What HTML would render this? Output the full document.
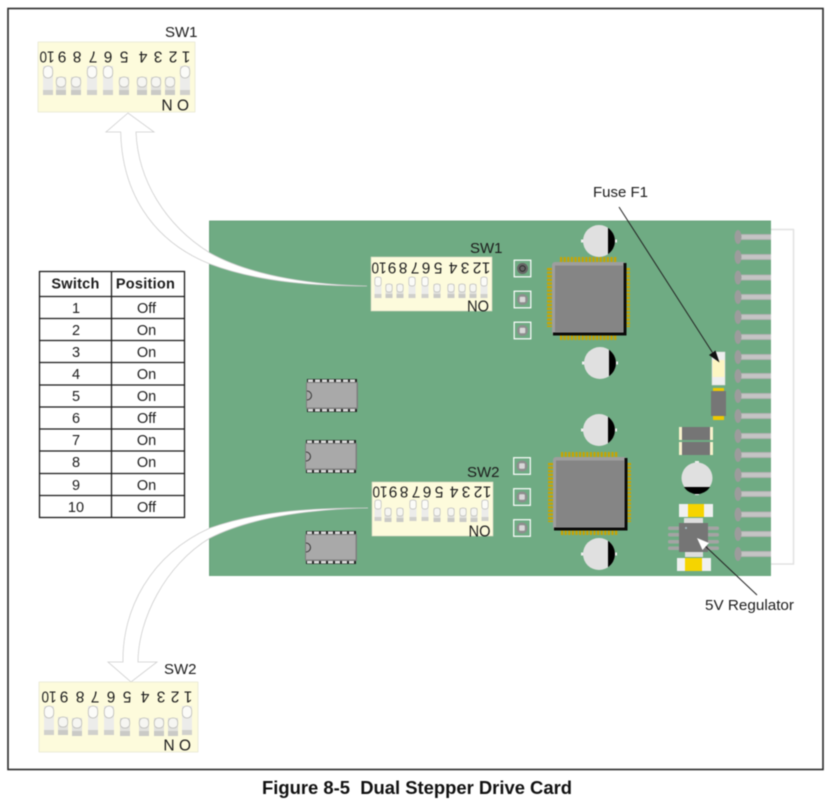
<!DOCTYPE html>
<html><head><meta charset="utf-8"><style>
html,body{margin:0;padding:0;background:#fff;width:831px;height:802px;overflow:hidden}
svg{display:block;filter:blur(.4px)}
text{font-family:"Liberation Sans",sans-serif;fill:#1c1c1c}
.d{font-size:15.5px;text-anchor:middle}
.l{font-size:15px}
.t{font-size:14.5px;text-anchor:middle}
.th{font-size:14.5px;font-weight:bold;text-anchor:middle;letter-spacing:.25px}
</style></head><body>
<svg width="831" height="802" viewBox="0 0 831 802" xmlns="http://www.w3.org/2000/svg">
<defs>
<g id="T"><rect x="-5" y="0" width="10" height="29" fill="#ececea"/><rect x="-5" y="24" width="10" height="5" fill="#d0d0cc"/><rect x="-4.700" y="0" width="9.400" height="12" rx="4.500" fill="#fbfbf8" stroke="#bcbcb8" stroke-width=".8"/></g>
<g id="S"><rect x="-5" y="0" width="10" height="18" fill="#e2e2de"/><rect x="-5" y="13" width="10" height="5" fill="#cacac6"/><rect x="-4.700" y="0" width="9.400" height="10" rx="4" fill="#f6f6f2" stroke="#bcbcb8" stroke-width=".8"/></g>
<g id="t"><rect x="-3.500" y="0" width="7" height="21" fill="#ececea"/><rect x="-3.500" y="17" width="7" height="4" fill="#d0d0cc"/><rect x="-3.200" y="0" width="6.400" height="9" rx="2.500" fill="#fbfbf8" stroke="#bcbcb8" stroke-width=".7"/></g>
<g id="s"><rect x="-3.500" y="0" width="7" height="14" fill="#e2e2de"/><rect x="-3.500" y="10" width="7" height="4" fill="#cacac6"/><rect x="-3.200" y="0" width="6.400" height="8" rx="2.500" fill="#f6f6f2" stroke="#bcbcb8" stroke-width=".7"/></g>
<g id="pin"><rect x="0" y="-3" width="33" height="6" fill="#b0b0b0"/><rect x="0" y="-2" width="33" height="4" fill="#c4c4c4"/><ellipse cx="0" cy="0" rx="3.500" ry="7" fill="#9c9c9c"/></g>
<g id="pad"><rect x="-8.300" y="-8.300" width="16.600" height="16.600" fill="none" stroke="#fff" stroke-width="1.200"/><circle r="5.500" fill="#8e8e8e"/><rect x="-2.800" y="-2.800" width="5.600" height="5.600" rx="1" fill="#d8d8d8"/></g>
<g id="qfp">
<path d="M8,-2.500H65M-2.500,6V65M75.500,6V65M8,75.500H65" stroke="#c9a400" stroke-width="5" stroke-dasharray="2.200 1.400" fill="none"/>
<rect x="0" y="0" width="74" height="73" rx="3" fill="#9e9e9e"/>
<path d="M71.500,1H74.500V73.500H1V70.500H71.500Z" fill="#0b0b0b"/>
<rect x="3" y="3.500" width="68" height="66.500" fill="#858585"/>
</g>
<g id="capR"><rect x="-18" y="-1.500" width="36" height="3" fill="#eee"/><circle r="16" fill="#e0e0e0"/><path d="M9,-13.200 A16,16 0 0 1 9,13.200Z" fill="#000"/></g>
<g id="dip">
<rect x="1" y="-2" width="50" height="4" fill="#222"/>
<rect x="1" y="27" width="50" height="4" fill="#222"/>
<path d="M2,0H51M2,29H51" stroke="#dcdcdc" stroke-width="3" stroke-dasharray="5 2" fill="none"/>
<rect x="0" y="1" width="52" height="27" rx="1" fill="#7e7e7e"/>
<rect x="1" y="2" width="49.500" height="24.500" fill="#a9a9a9"/>
<path d="M1,10 A4.500,4.500 0 0 1 1,19" fill="none" stroke="#333" stroke-width="1"/>
</g>
</defs>

<rect x="0" y="0" width="831" height="802" fill="#fff"/>
<rect x="8" y="8.500" width="815" height="761" fill="#fff" stroke="#2a2a2a" stroke-width="1.600"/>

<!-- connector -->
<rect x="765" y="229.500" width="28.500" height="334.500" fill="#fff" stroke="#e2e2e2" stroke-width="1.500"/>
<!-- board -->
<rect x="209.500" y="221" width="561.500" height="355" fill="#6fab83"/>
<path d="M209.500,576V221H771" fill="none" stroke="#5c9870" stroke-width=".8"/>

<!-- pins -->
<use href="#pin" x="738" y="237"/><use href="#pin" x="738" y="257"/><use href="#pin" x="738" y="277.500"/><use href="#pin" x="738" y="297"/><use href="#pin" x="738" y="317"/><use href="#pin" x="738" y="337"/><use href="#pin" x="738" y="357"/><use href="#pin" x="738" y="376"/><use href="#pin" x="738" y="396"/><use href="#pin" x="738" y="416"/><use href="#pin" x="738" y="436"/><use href="#pin" x="738" y="455"/><use href="#pin" x="738" y="475"/><use href="#pin" x="738" y="494"/><use href="#pin" x="738" y="514.500"/><use href="#pin" x="738" y="534"/><use href="#pin" x="738" y="554"/>

<!-- curved arrows -->
<path d="M128,113 L106,132 H120.700 C122,190 150,240 210,264 C260,283 320,286 367,286 C320,285 255,278 210,253 C165,225 138,180 136,132 H154 Z" fill="#fff" stroke="#cfcfcf" stroke-width=".8"/>
<path d="M131,682 L108,662 H123 C122,610 150,555 210,528 C260,510 320,508 368,508 C320,509 255,515 210,538 C165,565 138,620 138,662 H157 Z" fill="#fff" stroke="#cfcfcf" stroke-width=".8"/>

<!-- board DIP switch 1 -->
<rect x="371" y="257" width="121" height="54" fill="#fdfbdc" stroke="#d9d9c4" stroke-width=".6"/>
<use href="#t" x="378" y="277"/><use href="#s" x="389" y="284"/><use href="#s" x="400" y="284"/><use href="#t" x="412" y="277"/><use href="#t" x="425" y="277"/><use href="#s" x="437" y="284"/><use href="#s" x="451" y="284"/><use href="#s" x="462" y="284"/><use href="#s" x="473" y="284"/><use href="#t" x="484" y="277"/>
<text class="d" transform="translate(486 268) rotate(180)" y="5.500">1</text>
<text class="d" transform="translate(477 268) rotate(180)" y="5.500">2</text>
<text class="d" transform="translate(465 268) rotate(180)" y="5.500">3</text>
<text class="d" transform="translate(453 268) rotate(180)" y="5.500">4</text>
<text class="d" transform="translate(438 268) rotate(180)" y="5.500">5</text>
<text class="d" transform="translate(426 268) rotate(180)" y="5.500">6</text>
<text class="d" transform="translate(415 268) rotate(180)" y="5.500">7</text>
<text class="d" transform="translate(403 268) rotate(180)" y="5.500">8</text>
<text class="d" transform="translate(392 268) rotate(180)" y="5.500">9</text>
<text class="d" transform="translate(379 268) rotate(180)" y="5.500" textLength="15" lengthAdjust="spacingAndGlyphs">10</text>
<text class="d" transform="translate(478 306) rotate(180)" y="5.500" textLength="22" lengthAdjust="spacingAndGlyphs">ON</text>
<text class="l" x="470" y="253">SW1</text>

<!-- board DIP switch 2 -->
<rect x="372" y="482" width="121" height="54" fill="#fdfbdc" stroke="#d9d9c4" stroke-width=".6"/>
<use href="#t" x="378" y="500"/><use href="#s" x="388" y="508"/><use href="#s" x="400" y="508"/><use href="#t" x="413" y="500"/><use href="#t" x="425" y="500"/><use href="#s" x="437" y="508"/><use href="#s" x="451" y="508"/><use href="#s" x="463" y="508"/><use href="#s" x="474" y="508"/><use href="#t" x="485" y="500"/>
<text class="d" transform="translate(487 492) rotate(180)" y="5.500">1</text>
<text class="d" transform="translate(478 492) rotate(180)" y="5.500">2</text>
<text class="d" transform="translate(466 492) rotate(180)" y="5.500">3</text>
<text class="d" transform="translate(454 492) rotate(180)" y="5.500">4</text>
<text class="d" transform="translate(439 492) rotate(180)" y="5.500">5</text>
<text class="d" transform="translate(427 492) rotate(180)" y="5.500">6</text>
<text class="d" transform="translate(416 492) rotate(180)" y="5.500">7</text>
<text class="d" transform="translate(404 492) rotate(180)" y="5.500">8</text>
<text class="d" transform="translate(393 492) rotate(180)" y="5.500">9</text>
<text class="d" transform="translate(380 492) rotate(180)" y="5.500" textLength="15" lengthAdjust="spacingAndGlyphs">10</text>
<text class="d" transform="translate(479.500 531) rotate(180)" y="5.500" textLength="22" lengthAdjust="spacingAndGlyphs">ON</text>
<text class="l" x="467" y="477">SW2</text>

<!-- pads -->
<use href="#pad" x="522.500" y="268.500"/><use href="#pad" x="522.500" y="299.500"/><use href="#pad" x="522.500" y="330.500"/>
<circle cx="522.500" cy="268.500" r="5.500" fill="#666"/><circle cx="522.500" cy="268.500" r="2.800" fill="none" stroke="#222" stroke-width=".8"/>
<use href="#pad" x="522" y="466"/><use href="#pad" x="522" y="497"/><use href="#pad" x="522" y="528"/>

<!-- QFP chips -->
<use href="#qfp" x="552" y="262"/>
<use href="#qfp" x="553" y="457"/>

<!-- capacitors -->
<use href="#capR" x="599" y="241"/><use href="#capR" x="600" y="363"/><use href="#capR" x="599" y="430"/><use href="#capR" x="599" y="554"/>

<!-- DIP ICs -->
<use href="#dip" x="306" y="381"/>
<use href="#dip" x="305" y="442"/>
<use href="#dip" x="305" y="533"/>

<!-- fuse -->
<rect x="712" y="352" width="13" height="33" fill="#efefef" stroke="#ddd" stroke-width=".5"/>
<rect x="712.500" y="360" width="12" height="17" fill="#fdf6c3"/>
<rect x="713" y="388" width="11" height="32" fill="#eec800"/>
<rect x="711" y="391" width="15" height="25" fill="#767676"/>

<!-- resistors -->
<rect x="679" y="427" width="34" height="13" fill="#f7f1cc"/><rect x="682" y="427" width="28" height="13" fill="#757575"/>
<rect x="679" y="442" width="34" height="13" fill="#f7f1cc"/><rect x="682" y="442" width="28" height="13" fill="#757575"/>

<!-- horizontal cap -->
<rect x="695" y="461" width="4" height="34" fill="#eee"/>
<circle cx="697" cy="478" r="15.500" fill="#e0e0e0"/>
<path d="M684,487 A15.500,15.500 0 0 0 710,487Z" fill="#000"/>

<!-- regulator group -->
<rect x="679" y="504" width="34" height="13" fill="#f0f0f0"/><rect x="688" y="504" width="16" height="13" fill="#f5d400"/>
<rect x="684" y="518" width="19" height="6" fill="#dedede"/>
<rect x="685" y="551" width="18" height="6" fill="#dedede"/>
<g fill="#a4a4a4"><rect x="668" y="526.500" width="12" height="3.500" rx="1.500"/><rect x="668" y="533" width="12" height="3.500" rx="1.500"/><rect x="668" y="540" width="12" height="3.500" rx="1.500"/><rect x="668" y="546.500" width="12" height="3.500" rx="1.500"/><rect x="707" y="526.500" width="12" height="3.500" rx="1.500"/><rect x="707" y="533" width="12" height="3.500" rx="1.500"/><rect x="707" y="540" width="12" height="3.500" rx="1.500"/><rect x="707" y="546.500" width="12" height="3.500" rx="1.500"/></g>
<rect x="679" y="523" width="29" height="29" fill="#757575"/>
<circle cx="686" cy="528" r="1" fill="#a8c0cc"/>
<rect x="677" y="558" width="34" height="13" fill="#f0f0f0"/><rect x="685" y="558" width="17" height="13" fill="#f5d400"/>

<!-- leader lines -->
<line x1="619" y1="207" x2="716" y2="358" stroke="#222" stroke-width="1"/>
<path d="M719.500,362.500 L709,355 L715.500,350.500Z" fill="#111"/>
<line x1="757" y1="595" x2="703" y2="544" stroke="#222" stroke-width="1"/>
<path d="M697,538 L709,543 L702.500,550Z" fill="#fff"/>

<text class="l" x="593" y="197">Fuse F1</text>
<text class="l" x="705" y="610" textLength="89" lengthAdjust="spacingAndGlyphs">5V Regulator</text>

<!-- top SW1 -->
<rect x="38" y="42" width="157" height="70" fill="#fdfbdc" stroke="#e2e2cc" stroke-width=".6"/>
<use href="#T" x="48" y="66"/><use href="#S" x="61" y="77"/><use href="#S" x="76" y="77"/><use href="#T" x="92" y="66"/><use href="#T" x="108" y="66"/><use href="#S" x="124" y="77"/><use href="#S" x="142" y="77"/><use href="#S" x="156" y="77"/><use href="#S" x="170" y="77"/><use href="#T" x="185" y="66"/>
<text class="d" transform="translate(186 57) rotate(180)" y="5.500">1</text>
<text class="d" transform="translate(173 57) rotate(180)" y="5.500">2</text>
<text class="d" transform="translate(158 57) rotate(180)" y="5.500">3</text>
<text class="d" transform="translate(143 57) rotate(180)" y="5.500">4</text>
<text class="d" transform="translate(124 57) rotate(180)" y="5.500">5</text>
<text class="d" transform="translate(108 57) rotate(180)" y="5.500">6</text>
<text class="d" transform="translate(93 57) rotate(180)" y="5.500">7</text>
<text class="d" transform="translate(77 57) rotate(180)" y="5.500">8</text>
<text class="d" transform="translate(62 57) rotate(180)" y="5.500">9</text>
<text class="d" transform="translate(47 57) rotate(180)" y="5.500" textLength="15" lengthAdjust="spacingAndGlyphs">10</text>
<text class="d" transform="translate(167 105) rotate(180)" y="5.500">N</text>
<text class="d" transform="translate(183 105) rotate(180)" y="5.500">O</text>
<text class="l" x="165" y="37">SW1</text>

<!-- bottom SW2 -->
<rect x="39" y="682" width="159" height="70" fill="#fdfbdc" stroke="#e2e2cc" stroke-width=".6"/>
<use href="#T" x="49" y="706"/><use href="#S" x="63" y="717"/><use href="#S" x="77" y="718"/><use href="#T" x="93" y="706"/><use href="#T" x="109" y="706"/><use href="#S" x="125" y="718"/><use href="#S" x="144" y="718"/><use href="#S" x="159" y="718"/><use href="#S" x="173" y="718"/><use href="#T" x="187" y="706"/>
<text class="d" transform="translate(188 697) rotate(180)" y="5.500">1</text>
<text class="d" transform="translate(175 697) rotate(180)" y="5.500">2</text>
<text class="d" transform="translate(161 697) rotate(180)" y="5.500">3</text>
<text class="d" transform="translate(145 697) rotate(180)" y="5.500">4</text>
<text class="d" transform="translate(127 697) rotate(180)" y="5.500">5</text>
<text class="d" transform="translate(111 697) rotate(180)" y="5.500">6</text>
<text class="d" transform="translate(95 697) rotate(180)" y="5.500">7</text>
<text class="d" transform="translate(80 697) rotate(180)" y="5.500">8</text>
<text class="d" transform="translate(64 697) rotate(180)" y="5.500">9</text>
<text class="d" transform="translate(49 697) rotate(180)" y="5.500" textLength="15" lengthAdjust="spacingAndGlyphs">10</text>
<text class="d" transform="translate(169 745) rotate(180)" y="5.500">N</text>
<text class="d" transform="translate(185 745) rotate(180)" y="5.500">O</text>
<text class="l" x="164" y="674">SW2</text>

<!-- table -->
<g fill="none" stroke="#1a1a1a" stroke-width="1.300">
<rect x="39.500" y="271.500" width="145" height="246"/>
<path d="M111.500,271.500V517.500M39.500,296.500H184.500M39.500,318.500H184.500M39.500,340.500H184.500M39.500,362.500H184.500M39.500,385H184.500M39.500,407H184.500M39.500,429H184.500M39.500,451H184.500M39.500,473.500H184.500M39.500,495.500H184.500"/>
</g>
<text class="th" x="75.500" y="288.500">Switch</text><text class="th" x="145.500" y="288.500">Position</text>
<text class="t" x="76" y="313">1</text><text class="t" x="146.500" y="313">Off</text>
<text class="t" x="76" y="335">2</text><text class="t" x="146.500" y="335">On</text>
<text class="t" x="76" y="357">3</text><text class="t" x="146.500" y="357">On</text>
<text class="t" x="76" y="379">4</text><text class="t" x="146.500" y="379">On</text>
<text class="t" x="76" y="401">5</text><text class="t" x="146.500" y="401">On</text>
<text class="t" x="76" y="423">6</text><text class="t" x="146.500" y="423">Off</text>
<text class="t" x="76" y="445">7</text><text class="t" x="146.500" y="445">On</text>
<text class="t" x="76" y="467">8</text><text class="t" x="146.500" y="467">On</text>
<text class="t" x="76" y="490">9</text><text class="t" x="146.500" y="490">On</text>
<text class="t" x="76" y="512">10</text><text class="t" x="146.500" y="512">Off</text>

<text x="262" y="794" font-size="18.400" font-weight="bold" textLength="310" lengthAdjust="spacingAndGlyphs" style="white-space:pre;fill:#111">Figure 8-5  Dual Stepper Drive Card</text>
</svg>
</body></html>
